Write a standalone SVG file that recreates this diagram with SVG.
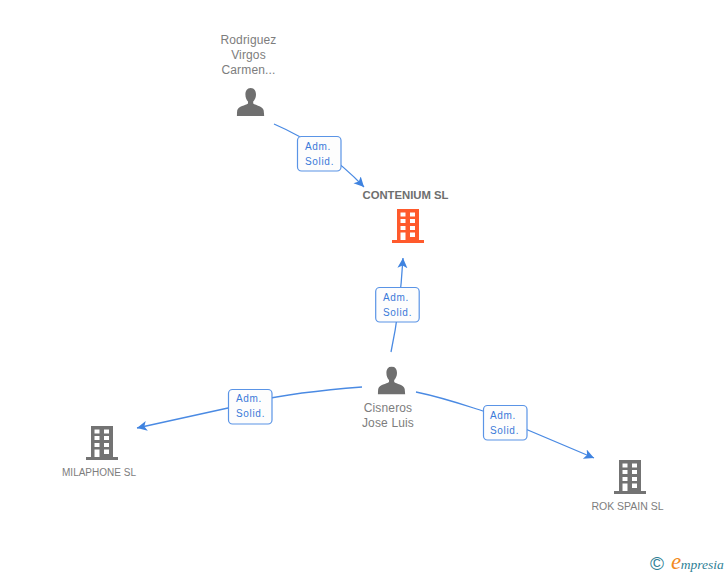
<svg xmlns="http://www.w3.org/2000/svg" width="728" height="575" viewBox="0 0 728 575">
<style>
text{font-family:"Liberation Sans",Arial,sans-serif;text-anchor:middle;fill:#7d7d7d}
.n{font-size:12px;letter-spacing:.15px}
.s{font-size:10.500px}
.m{font-size:10px}
.b{font-size:11.300px;font-weight:bold;fill:#6e6e6e}
.l{font-size:10px;letter-spacing:.7px;fill:#3a7ad9}
.c{fill:none;stroke:#4a8ae3;stroke-width:1.3}
.box{fill:#fdfdfd;stroke:#5a94e6;stroke-width:1.2}
.logo{text-anchor:start;font-style:italic;fill:#2f7f96}
</style>
<defs>
<marker id="a" markerUnits="userSpaceOnUse" markerWidth="12" markerHeight="12" refX="10" refY="5" orient="auto"><path d="M0 0L10 5L0 10L2.500 5Z" fill="#3f83e0"/></marker>
<symbol id="bld" width="32" height="34" viewBox="0 0 32 34" overflow="visible">
<path fill-rule="evenodd" d="M5 0H27V31H32V34H0V31H5ZM8.500 3.500V7.500H13.500V3.500ZM18 3.500V7.500H23V3.500ZM8.500 10V14H13.500V10ZM18 10V14H23V10ZM8.500 17V21H13.500V17ZM18 17V21H23V17ZM8.500 23.500V31H13.500V23.500ZM18 23.500V28H23V23.500Z"/>
</symbol>
<symbol id="per" width="28" height="28" viewBox="0 0 28 28">
<path fill="#6f6f6f" d="M14 0C10.300 0 8.700 3 8.700 6.500C8.700 9.500 9.800 12 11.300 13.500V15.500C9 17.500 1.500 18 .5 22.500L0 28H27.500L27 22.500C26 18 18.500 17.500 16.500 15.500V13.500C18 12 19.300 9.500 19.300 6.500C19.300 3 17.700 0 14 0Z"/>
</symbol>
</defs>
<g id="connectors">
<path class="c" marker-end="url(#a)" d="M274 124Q325 146 364 187"/>
<path class="c" marker-end="url(#a)" d="M391 352Q400 310 403 258"/>
<path class="c" marker-end="url(#a)" d="M362 387C310 391 260 398 228 408L137 428"/>
<path class="c" marker-end="url(#a)" d="M416 392C445 398 470 407 483 411L594 458"/>
</g>
<g id="label-1"><rect class="box" x="297.500" y="136.500" width="43.500" height="34.500" rx="4"/><text class="l" x="318" y="150">Adm.</text><text class="l" x="319.500" y="165">Solid.</text></g>
<g id="label-2"><rect class="box" x="375.700" y="287.500" width="43.500" height="34.500" rx="4"/><text class="l" x="396" y="301">Adm.</text><text class="l" x="397.500" y="316">Solid.</text></g>
<g id="label-3"><rect class="box" x="228.500" y="389.500" width="43.500" height="34.500" rx="4"/><text class="l" x="249" y="402">Adm.</text><text class="l" x="250.500" y="417">Solid.</text></g>
<g id="label-4"><rect class="box" x="483.500" y="405.500" width="43.500" height="34.500" rx="4"/><text class="l" x="503" y="419">Adm.</text><text class="l" x="504.500" y="434">Solid.</text></g>
<g id="node-rodriguez"><text class="n" x="248.500" y="44">Rodriguez</text><text class="n" x="248.500" y="59">Virgos</text><text class="n" x="248.500" y="74">Carmen...</text><use href="#per" x="236.700" y="88"/></g>
<g id="node-contenium"><text class="b" x="405.500" y="199">CONTENIUM SL</text><use href="#bld" x="392" y="209" fill="#ff5a2c"/></g>
<g id="node-cisneros"><use href="#per" x="377.700" y="366.500"/><text class="n" x="388" y="412">Cisneros</text><text class="n" x="388" y="427">Jose Luis</text></g>
<g id="node-milaphone"><use href="#bld" x="86" y="426" fill="#737373"/><text class="m" x="99" y="476">MILAPHONE SL</text></g>
<g id="node-rok"><use href="#bld" x="614" y="460" fill="#737373"/><text class="s" x="627.500" y="510">ROK SPAIN SL</text></g>
<g id="logo"><text class="logo" x="650" y="570" style="font-style:normal;font-size:19px">©</text><text class="logo" x="671" y="569" style="font-family:'Liberation Serif',serif;font-size:13.500px"><tspan style="fill:#f28a1e;font-size:23px">e</tspan><tspan dx="-0.500">mpresia</tspan></text></g>
</svg>
